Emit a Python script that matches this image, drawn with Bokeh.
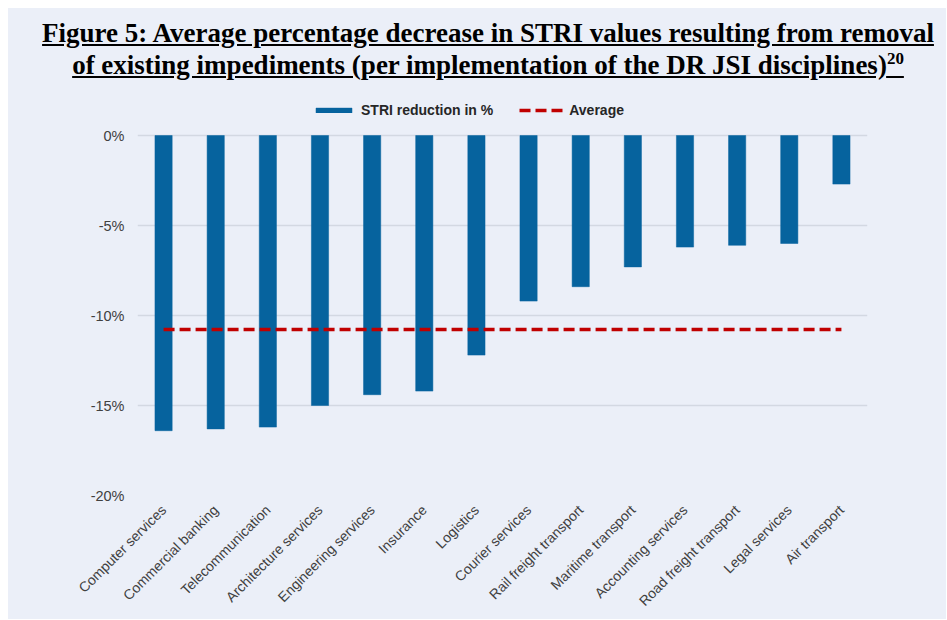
from math import pi
from bokeh.plotting import figure
from bokeh.models import (Div, FixedTicker, PrintfTickFormatter, Legend, LegendItem,
                          ColumnDataSource, FactorRange, Range1d)
from bokeh.layouts import column
from bokeh.embed import file_html
from bokeh.resources import INLINE

categories = ["Computer services", "Commercial banking", "Telecommunication",
              "Architecture services", "Engineering services", "Insurance", "Logistics",
              "Courier services", "Rail freight transport", "Maritime transport",
              "Accounting services", "Road freight transport", "Legal services", "Air transport"]
reduction = [-16.4, -16.3, -16.2, -15.0, -14.4, -14.2, -12.2,
             -9.2, -8.4, -7.3, -6.2, -6.1, -6.0, -2.7]
average = -10.78
y_ticks = [0, -5, -10, -15, -20]

BG = "#EBEFF8"
BAR = "#06639E"
RED = "#C00000"
TXT = "#404040"

title_html = (
    '<div style="width:938px;height:88px;box-sizing:border-box;padding-top:9px;padding-left:22px;'
    'background-color:' + BG + ';'
    'text-align:center;font-family:\'Liberation Serif\',\'Times New Roman\',serif;'
    'font-weight:bold;font-size:27px;line-height:32px;color:#000;text-decoration:underline;">'
    'Figure 5: Average percentage decrease in STRI values resulting from removal<br>'
    'of existing impediments (per implementation of the DR JSI disciplines)'
    '<sup style="font-size:17px;line-height:0;">20</sup></div>'
)
div = Div(text=title_html, width=938, height=88, margin=(0, 0, 0, 0),
          styles={"background-color": BG})

src = ColumnDataSource(dict(cat=categories, val=reduction))

p = figure(width=938, height=523, x_range=FactorRange(*categories),
           y_range=Range1d(-20, 2.0), output_backend="svg", toolbar_location=None,
           min_border_left=129, min_border_right=79, min_border_top=3,
           min_border_bottom=124, margin=(0, 0, 0, 0))
p.background_fill_color = BG
p.border_fill_color = BG
p.outline_line_color = None

bars = p.vbar(x="cat", top="val", bottom=0, width=0.33, source=src,
              fill_color=BAR, line_color=BAR, line_width=0.5)
avg_line = p.line(x=[categories[0], categories[-1]], y=[average, average],
                  line_color=RED, line_width=3.5, line_dash="11 5")

p.xgrid.grid_line_color = None
p.ygrid.grid_line_color = "#D3D8E2"
p.ygrid.grid_line_width = 1.5
p.yaxis.ticker = FixedTicker(ticks=y_ticks)
p.yaxis.formatter = PrintfTickFormatter(format="%d%%")

for ax in (p.xaxis[0], p.yaxis[0]):
    ax.axis_line_color = None
    ax.major_tick_line_color = None
    ax.minor_tick_line_color = None
    ax.major_tick_out = 0
    ax.major_tick_in = 0
    ax.minor_tick_out = 0
    ax.major_label_text_font = "Liberation Sans"
    ax.major_label_text_color = TXT

p.xaxis.major_label_text_font_size = "14px"
p.yaxis.major_label_text_font_size = "14.5px"
p.yaxis.major_label_standoff = 13
p.xaxis.major_label_orientation = pi / 4
p.xaxis.major_label_standoff = 12

legend = Legend(items=[LegendItem(label="STRI reduction in %", renderers=[bars]),
                       LegendItem(label="Average", renderers=[avg_line])],
                orientation="horizontal", location=(174, 377))
legend.background_fill_alpha = 0
legend.border_line_alpha = 0
legend.padding = 0
legend.margin = 0
legend.spacing = 26
legend.glyph_width = 45
legend.glyph_height = 6
legend.label_height = 16
legend.label_standoff = 5
legend.label_text_font = "Liberation Sans"
legend.label_text_font_style = "bold"
legend.label_text_font_size = "14px"
legend.label_text_color = "#262626"
p.add_layout(legend)

layout = column(div, p, spacing=0, margin=(8, 0, 0, 8),
                styles={"background-color": BG})
open("out.html", "w").write(file_html(layout, INLINE))
